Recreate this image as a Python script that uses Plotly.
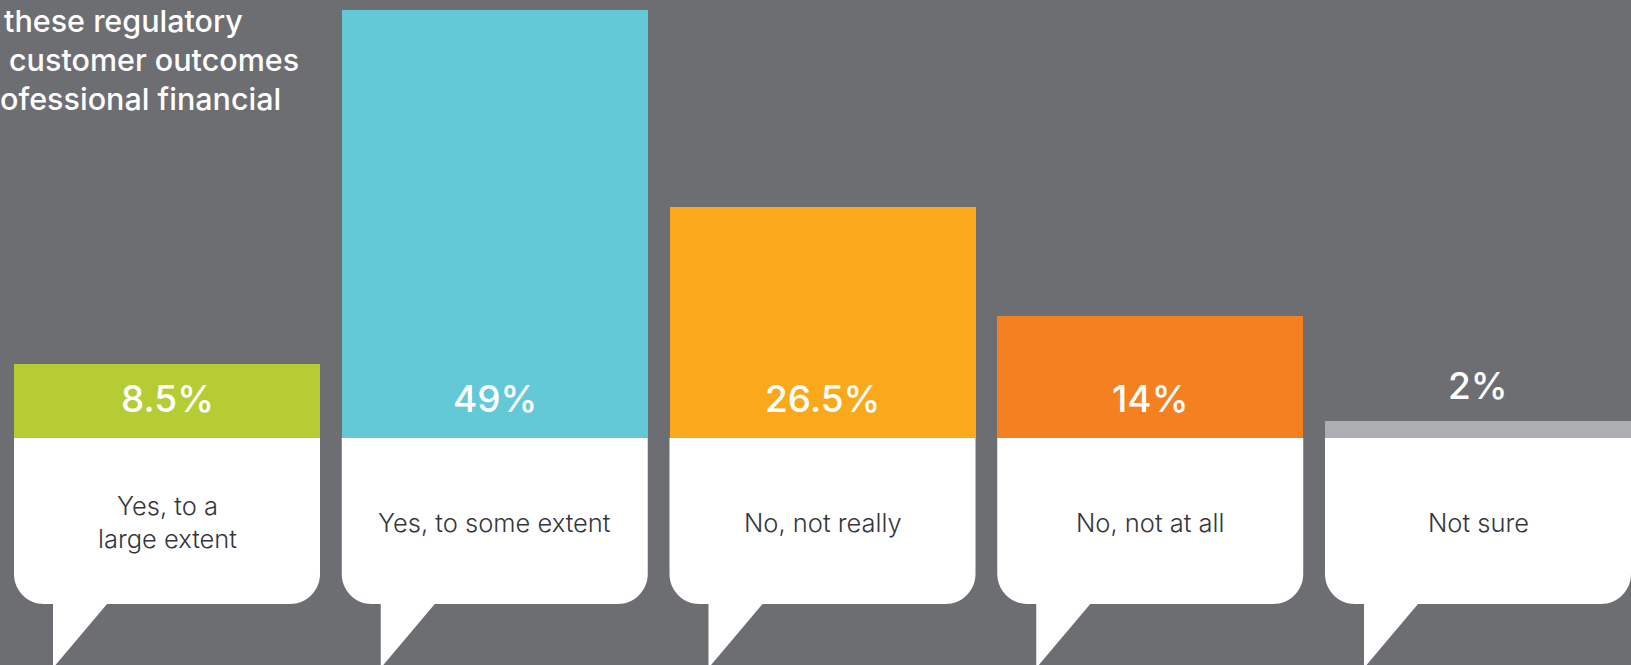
import plotly.graph_objects as go

# Survey answers and their shares (%)
categories = ["Yes, to a<br>large extent", "Yes, to some extent", "No, not really",
              "No, not at all", "Not sure"]
values = [8.5, 49, 26.5, 14, 2]
value_labels = ["8.5%", "49%", "26.5%", "14%", "2%"]
bar_colors = ["#b5cc35", "#63c9d7", "#faa91c", "#f58021", "#adaeb1"]
title_lines = ["these regulatory", "customer outcomes", "ofessional financial"]

W, H = 1631, 665
BG = "#6d6e72"

# axis geometry (pixels per data unit)
PX_X = 327.75
PX_Y = 428 / 49
X0 = -167 / PX_X
x_range = [X0, X0 + W / PX_X]
y_range = [-(H - 438) / PX_Y, 438 / PX_Y]
BAR_W = 306 / PX_X

positions = list(range(len(categories)))

fig = go.Figure()
fig.add_trace(go.Bar(
    x=positions, y=values, width=BAR_W,
    marker=dict(color=bar_colors, line=dict(width=0)),
    hoverinfo="skip",
))

# white speech-bubble callouts below each bar
k = 0.5523
rx = 30 / PX_X
ry = 30 / PX_Y
box_bottom = -(604 - 438) / PX_Y
tail_end = -(668 - 438) / PX_Y
shapes = []
for i in positions:
    left = i - BAR_W / 2
    right = i + BAR_W / 2
    xl = left + 39 / PX_X
    xr = left + 93 / PX_X
    b = box_bottom
    path = (
        f"M {left},0 L {right},0 L {right},{b + ry} "
        f"C {right},{b + ry * (1 - k)} {right - rx * (1 - k)},{b} {right - rx},{b} "
        f"L {xr},{b} L {xl},{tail_end} L {xl},{b} L {left + rx},{b} "
        f"C {left + rx * (1 - k)},{b} {left},{b + ry * (1 - k)} {left},{b + ry} Z"
    )
    shapes.append(dict(type="path", path=path, xref="x", yref="y",
                       fillcolor="white", line=dict(width=0), layer="below"))

annotations = []
label_font = dict(family="Inter, sans-serif", size=37, color="white", weight=500)
for i, v, lab in zip(positions, values, value_labels):
    y = 40 / PX_Y if v >= 8 else v + 35.5 / PX_Y
    annotations.append(dict(x=i, y=y, xref="x", yref="y", text=lab,
                            showarrow=False, font=label_font,
                            xanchor="center", yanchor="middle"))

cat_font = dict(family="Inter, sans-serif", size=25.5, color="#36363a", weight=300)
for i, c in zip(positions, categories):
    annotations.append(dict(x=i, y=-(522 - 438) / PX_Y, xref="x", yref="y",
                            text=c, showarrow=False, font=cat_font,
                            xanchor="center", yanchor="middle"))

title_font = dict(family="Inter, sans-serif", size=30.5, color="white", weight=500)
title_x = [2, 7, -2]
title_mid = [20, 59, 98]
for t, xp, ym in zip(title_lines, title_x, title_mid):
    annotations.append(dict(x=xp / W, y=1 - ym / H, xref="paper", yref="paper",
                            text=t, showarrow=False, font=title_font,
                            xanchor="left", yanchor="middle", align="left"))

fig.update_layout(
    width=W, height=H,
    margin=dict(l=0, r=0, t=0, b=0),
    paper_bgcolor=BG, plot_bgcolor=BG,
    showlegend=False,
    xaxis=dict(range=x_range, visible=False, fixedrange=True),
    yaxis=dict(range=y_range, visible=False, fixedrange=True),
    shapes=shapes,
    annotations=annotations,
    bargap=0,
)

fig.write_html("out.html", config={"displayModeBar": False})
